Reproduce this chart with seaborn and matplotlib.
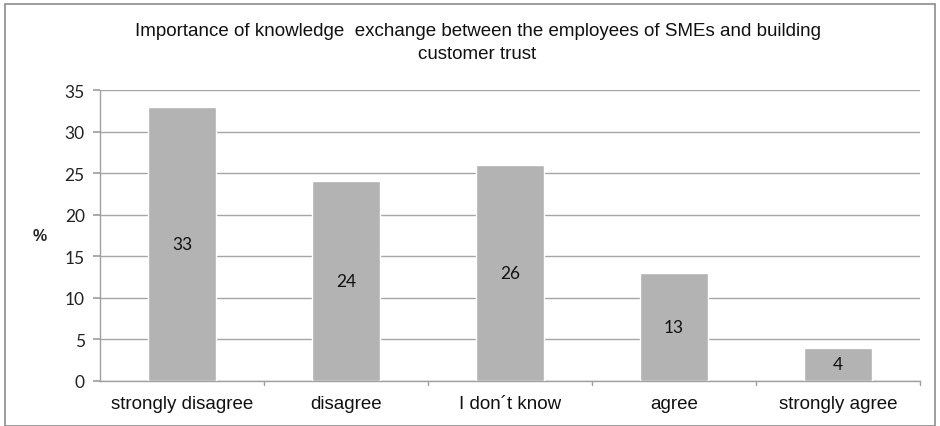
import matplotlib
matplotlib.use("Agg")
import matplotlib.pyplot as plt
import seaborn as sns
import pandas as pd
from matplotlib.patches import Rectangle

categories = ["strongly disagree", "disagree", "I don\u00b4t know", "agree", "strongly agree"]
values = [33, 24, 26, 13, 4]
yticks = [0, 5, 10, 15, 20, 25, 30, 35]
title = "Importance of knowledge  exchange between the employees of SMEs and building\ncustomer trust"

sns.set_theme(style="white")
narrow = ["Liberation Sans", "DejaVu Sans"]
num = ["Lato", "DejaVu Sans"]

df = pd.DataFrame({"cat": categories, "val": values})
fig = plt.figure(figsize=(9.4, 4.27), dpi=100)
ax = fig.add_axes([100/940, 1-382/427, 820/940, 291/427])

sns.barplot(data=df, x="cat", y="val", color="#b3b3b3", saturation=1, width=0.41, ax=ax, zorder=3)
ax.set_ylim(0, 35)
ax.set_xlim(-0.5, 4.5)
ax.set_yticks(yticks)
ax.set_yticklabels([str(t) for t in yticks], family=num, fontsize=12.5, color="#222222")
ax.set_xticks(range(len(categories)))
ax.set_xticklabels(categories, family=narrow, fontsize=13.5, color="#111111")
ax.grid(axis="y", color="#a6a6a6", linewidth=1, zorder=0)
for s in ["top", "right"]:
    ax.spines[s].set_visible(False)
for s in ["left", "bottom"]:
    ax.spines[s].set_color("#a0a0a0")
    ax.spines[s].set_linewidth(1)
ax.tick_params(axis="y", length=5, color="#a0a0a0", pad=6, left=True)
ax.tick_params(axis="x", length=0, pad=10)
for b in [0.5, 1.5, 2.5, 3.5, 4.5]:
    ax.plot([b, b], [0, -0.5], color="#a0a0a0", lw=1, clip_on=False, transform=ax.transData)
ax.set_xlabel("")
ax.set_ylabel("%", rotation=0, family=["Liberation Sans", "DejaVu Sans"], fontsize=11.5, fontweight="bold", labelpad=18, va="center")

for i, v in enumerate(values):
    ax.text(i, v / 2, str(v), ha="center", va="center", family=num, fontsize=12.5, color="#111111", zorder=4)

fig.text(0.508, 1-43/427, title, ha="center", va="center", family=narrow, fontsize=13.5, color="#111111", linespacing=1.5)

fig.patches.append(Rectangle((5/940, 0), 930/940, 1-5/427, transform=fig.transFigure, fill=False, edgecolor="#8c8c8c", linewidth=1.2))

fig.savefig("out.png", dpi=100)
